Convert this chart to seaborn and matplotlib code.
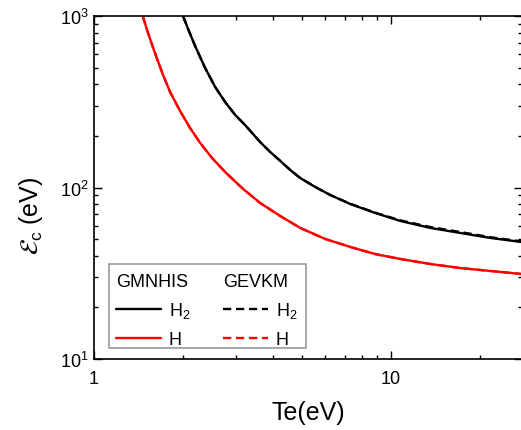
import numpy as np
import matplotlib
matplotlib.use("Agg")
import matplotlib.pyplot as plt
import seaborn as sns
from matplotlib.lines import Line2D
from matplotlib.patches import Rectangle
from matplotlib.ticker import FuncFormatter, NullFormatter, LogLocator

# Valores (Te en eV, energía crítica en eV)
te_h2 = [1.995, 2.074, 2.19, 2.366, 2.557, 2.764, 2.987, 3.228, 3.357, 3.627, 3.92, 4.236,
         4.577, 4.947, 5.557, 6.244, 7.293, 8.854, 10.75, 13.57, 17.13, 21.61, 27.49]
ec_h2_gmnhis = [1000, 840, 668, 498, 386, 315, 265, 231, 214, 184, 161, 143,
                126.5, 113.6, 100.7, 90.4, 80.1, 71.0, 63.8, 58.1, 54.3, 50.8, 48.1]
ec_h2_gevkm = [1000, 840, 668, 498, 386, 315, 265, 231, 214, 184, 161, 143,
               126.5, 113.6, 100.7, 90.4, 80.3, 71.3, 64.3, 58.8, 55.0, 51.3, 48.5]

te_h = [1.459, 1.509, 1.569, 1.631, 1.708, 1.804, 1.95, 2.107, 2.277, 2.498, 2.764, 3.178,
        3.627, 4.236, 4.947, 6.005, 7.293, 8.854, 10.75, 13.57, 17.13, 21.61, 27.49]
ec_h_gmnhis = [1000, 829, 678, 562, 453, 360, 279, 222, 182, 148.6, 123.1, 98.0,
               81.2, 68.2, 58.1, 50.1, 45.0, 40.9, 38.3, 35.8, 33.9, 32.6, 31.3]
ec_h_gevkm = [1000, 829, 678, 562, 453, 360, 279, 222, 182, 148.6, 123.1, 98.0,
              81.2, 68.2, 58.1, 50.1, 45.0, 40.9, 38.3, 35.8, 33.9, 32.6, 31.3]

sns.set_style("ticks", {'text.color': 'black', 'axes.labelcolor': 'black',
                        'axes.edgecolor': 'black', 'xtick.color': 'black',
                        'ytick.color': 'black'})
plt.rcParams['font.family'] = ['Liberation Sans', 'DejaVu Sans']
plt.rcParams['mathtext.fontset'] = 'stix'
plt.rcParams['mathtext.default'] = 'regular'

fig = plt.figure(figsize=(5.21, 4.31), dpi=100)
ax = fig.add_axes([94 / 521, 1 - 360 / 431, 428 / 521, 343 / 431])

dash = (0, (3.5, 2.0))
sns.lineplot(x=te_h2, y=ec_h2_gmnhis, color='black', lw=1.7, ax=ax, sort=False)
sns.lineplot(x=te_h, y=ec_h_gmnhis, color='red', lw=1.7, ax=ax, sort=False)
sns.lineplot(x=te_h2, y=ec_h2_gevkm, color='black', lw=1.7, ax=ax, sort=False, linestyle=dash)
sns.lineplot(x=te_h, y=ec_h_gevkm, color='red', lw=1.7, ax=ax, sort=False, linestyle=dash)

ax.set_xscale('log')
ax.set_yscale('log')
ax.set_xlim(1, 27.6)
ax.set_ylim(10, 1000)

ax.xaxis.set_major_locator(LogLocator(base=10))
ax.xaxis.set_minor_locator(LogLocator(base=10, subs=np.arange(2, 10)))
ax.xaxis.set_major_formatter(FuncFormatter(lambda v, _: f"{v:g}"))
ax.xaxis.set_minor_formatter(NullFormatter())
ax.yaxis.set_minor_locator(LogLocator(base=10, subs=np.arange(2, 10)))
ax.yaxis.set_minor_formatter(NullFormatter())

for s in ax.spines.values():
    s.set_linewidth(1.2)
    s.set_color('black')
ax.tick_params(which='both', direction='in', top=True, right=True, width=1.0,
               labelsize=13, colors='black')
ax.tick_params(which='major', length=5.5)
ax.tick_params(which='minor', length=3)
ax.tick_params(axis='x', pad=8)
ax.tick_params(axis='y', pad=4)

ax.set_xlabel('Te(eV)', fontsize=18, color='black')
ax.set_ylabel(r'$\mathcal{E}_{\mathregular{c}}$ (eV)', fontsize=18, color='black')
ax.xaxis.set_label_coords(0.5, -0.12)
ax.yaxis.set_label_coords(-0.115, 0.42)

# Leyenda en dos columnas con encabezado
h_solid = [Line2D([], [], color='black', lw=1.7), Line2D([], [], color='red', lw=1.7)]
h_dash = [Line2D([], [], color='black', lw=1.7, linestyle=dash),
          Line2D([], [], color='red', lw=1.7, linestyle=dash)]
labels = ['H$_2$', 'H']
kw = dict(loc='upper left', frameon=False, fontsize=13, title_fontsize=13,
          handlelength=2.5, handletextpad=0.4, labelspacing=0.6,
          borderpad=0, borderaxespad=0, alignment='left', labelcolor='black')
leg1 = ax.legend(h_solid, labels, title='GMNHIS', bbox_to_anchor=(0.052, 0.252), **kw)
leg1.get_title().set_color('black')
ax.add_artist(leg1)
leg2 = ax.legend(h_dash, labels, title='GEVKM', bbox_to_anchor=(0.302, 0.252), **kw)
leg2.get_title().set_color('black')
ax.add_patch(Rectangle((0.035, 0.032), 0.46, 0.245, transform=ax.transAxes,
                       fill=False, edgecolor='#999999', lw=1.2, zorder=5))

fig.savefig('out.png', dpi=100)
